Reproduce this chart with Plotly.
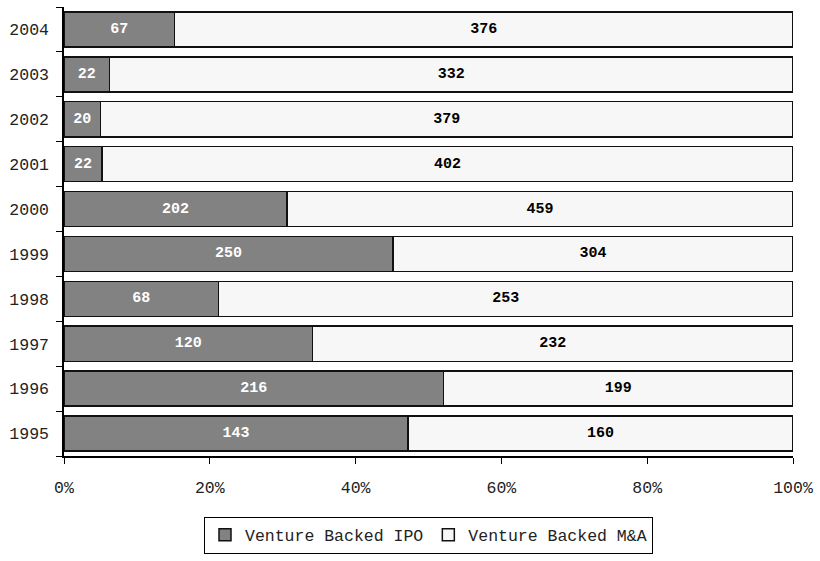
import plotly.graph_objects as go

years = ["1995", "1996", "1997", "1998", "1999", "2000", "2001", "2002", "2003", "2004"]
ipo = [143, 216, 120, 68, 250, 202, 22, 20, 22, 67]
mna = [160, 199, 232, 253, 304, 459, 402, 379, 332, 376]
x_ticks = [0, 20, 40, 60, 80, 100]

FONT = "Liberation Mono, Courier New, monospace"

fig = go.Figure()
fig.add_trace(go.Bar(
    y=years, x=ipo, orientation="h", name="Venture Backed IPO",
    marker=dict(color="#828282", line=dict(color="#111111", width=1.5)),
    text=[str(v) for v in ipo], textposition="inside", insidetextanchor="middle",
    textfont=dict(family=FONT, size=15, color="white", weight="bold"),
    hoverinfo="x+y",
))
fig.add_trace(go.Bar(
    y=years, x=mna, orientation="h", name="Venture Backed M&A",
    marker=dict(color="#f7f7f7", line=dict(color="#111111", width=1.5)),
    text=[str(v) for v in mna], textposition="inside", insidetextanchor="middle",
    textfont=dict(family=FONT, size=15, color="black", weight="bold"),
    hoverinfo="x+y",
))

fig.update_layout(
    width=820, height=561,
    barmode="stack", barnorm="percent", bargap=0.22,
    plot_bgcolor="white", paper_bgcolor="white",
    margin=dict(l=64, r=25, t=7.5, b=103.5),
    font=dict(family=FONT, size=16.5, color="#222222"),
    uniformtext=dict(mode=False),
    showlegend=True,
    legend=dict(
        orientation="h", x=0.5, xanchor="center", y=-0.135, yanchor="top",
        traceorder="normal",
        bordercolor="black", borderwidth=1, font=dict(family=FONT, size=16.5, color="#222222"),
        itemwidth=30, tracegroupgap=0,
    ),
    xaxis=dict(
        range=[0, 100], tickvals=x_ticks, ticktext=[f"{v}%" for v in x_ticks],
        showline=True, linecolor="black", linewidth=1.5, ticks="outside",
        ticklen=6, tickcolor="black", showgrid=False, zeroline=False,
        ticklabelstandoff=9,
    ),
    yaxis=dict(
        type="category", categoryorder="array", categoryarray=years,
        showline=True, linecolor="black", linewidth=1.5, ticks="outside",
        tickson="boundaries", ticklen=6, tickcolor="black", showgrid=False,
        ticklabelstandoff=10,
    ),
)

fig.write_html("out.html")
